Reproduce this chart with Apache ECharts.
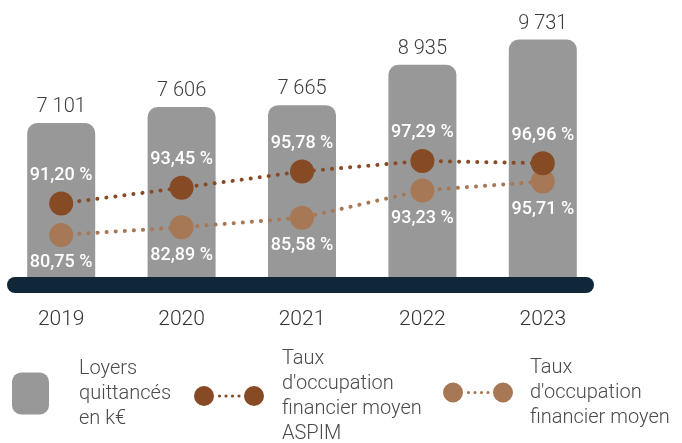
<!DOCTYPE html>
<html>
<head>
<meta charset="utf-8">
<script src="https://cdn.jsdelivr.net/npm/echarts@6/dist/echarts.min.js"></script>
<style>
    html, body { margin: 0; padding: 0; background: #fff; }
    #chart { width: 682px; height: 443px; }
</style>
</head>
<body>
<div id="chart"></div>
<script>
// Données | Data
const years = ['2019', '2020', '2021', '2022', '2023'];
const loyers = [7101, 7606, 7665, 8935, 9731];
const tofAspim = [91.20, 93.45, 95.78, 97.29, 96.96];
const tofMoyen = [80.75, 82.89, 85.58, 93.23, 95.71];

const seriesNames = ['Loyers quittancés en k€', 'Taux d\'occupation financier moyen ASPIM', 'Taux d\'occupation financier moyen'];
const legendTexts = ['Loyers\nquittancés\nen k€', 'Taux\nd\'occupation\nfinancier moyen\nASPIM', 'Taux\nd\'occupation\nfinancier moyen'];

const FONT = 'Roboto, "Noto Sans", sans-serif';
const GREY = '#989898';
const DARK = '#864A24';
const LIGHT = '#A77855';
const NAVY = '#10273A';

// icône légende : deux ronds reliés par des points
const dot = x => 'M' + (x - 1.6) + ',10a1.6,1.6 0 1,0 3.2,0a1.6,1.6 0 1,0 -3.2,0Z';
const dotsIcon = 'path://M0,10a10,10 0 1,0 20,0a10,10 0 1,0 -20,0Z' +
    'M50,10a10,10 0 1,0 20,0a10,10 0 1,0 -20,0Z' +
    dot(25.5) + dot(32) + dot(38.5) + dot(45);

function fmtThousands(v) {
    return String(v).replace(/\B(?=(\d{3})+(?!\d))/g, ' ');
}
function fmtPct(v) {
    return v.toFixed(2).replace('.', ',') + ' %';
}

const legendText = {
    fontFamily: FONT,
    fontSize: 20,
    fontWeight: 300,
    color: '#4a4a4a',
    lineHeight: 25
};

function makeLegend(i, left, top, icon, w, h, padLeft) {
    return {
        data: [seriesNames[i]],
        left: left,
        top: top,
        padding: 0,
        icon: icon,
        itemWidth: w,
        itemHeight: h,
        selectedMode: false,
        itemStyle: { borderWidth: 0 },
        formatter: function () { return legendTexts[i]; },
        textStyle: Object.assign({}, legendText, { padding: [8, 0, 0, padLeft] })
    };
}

const chart = echarts.init(document.getElementById('chart'));

const option = {
    animation: false,
    grid: {
        left: 1,
        right: 79,
        top: 31,
        bottom: 158
    },
    xAxis: {
        type: 'category',
        data: years,
        axisLine: { show: false },
        axisTick: { show: false },
        axisLabel: {
            margin: 24,
            fontFamily: FONT,
            fontSize: 21,
            fontWeight: 300,
            color: '#333'
        }
    },
    yAxis: [
        { type: 'value', min: 2000, max: 10000, show: false },
        { type: 'value', min: 79.54, max: 115.88, show: false },
        { type: 'value', min: 66.73, max: 137.88, show: false }
    ],
    legend: [
        makeLegend(0, 12, 352, 'roundRect', 37, 42, 25),
        makeLegend(1, 194, 342, dotsIcon, 70, 20, 13),
        makeLegend(2, 443, 351, dotsIcon, 70, 20, 12)
    ],
    graphic: [
        {
            type: 'rect',
            z: 100,
            shape: { x: 7, y: 277, width: 587, height: 16, r: 8 },
            style: { fill: NAVY }
        }
    ],
    series: [
        {
            name: seriesNames[0],
            type: 'bar',
            data: loyers,
            barWidth: 68,
            itemStyle: {
                color: GREY,
                borderRadius: [10, 10, 0, 0]
            },
            label: {
                show: true,
                position: 'top',
                distance: 6,
                formatter: p => fmtThousands(p.value),
                fontFamily: FONT,
                fontSize: 20,
                fontWeight: 300,
                color: '#3d3d3d'
            }
        },
        {
            name: seriesNames[1],
            type: 'line',
            yAxisIndex: 1,
            data: tofAspim,
            symbol: 'circle',
            symbolSize: 24,
            z: 4,
            itemStyle: { color: DARK, borderWidth: 0 },
            lineStyle: { color: DARK, width: 4, type: [0.1, 9], cap: 'round' },
            label: {
                show: true,
                position: 'top',
                distance: 7,
                formatter: p => fmtPct(p.value),
                fontFamily: FONT,
                fontSize: 18,
                fontWeight: 500,
                color: '#fff'
            }
        },
        {
            name: seriesNames[2],
            type: 'line',
            yAxisIndex: 2,
            data: tofMoyen,
            symbol: 'circle',
            symbolSize: 24,
            z: 3,
            itemStyle: { color: LIGHT, borderWidth: 0 },
            lineStyle: { color: LIGHT, width: 4, type: [0.1, 9], cap: 'round' },
            label: {
                show: true,
                position: 'bottom',
                distance: 7,
                formatter: p => fmtPct(p.value),
                fontFamily: FONT,
                fontSize: 18,
                fontWeight: 500,
                color: '#fff'
            }
        }
    ]
};

chart.setOption(option);
</script>
</body>
</html>
